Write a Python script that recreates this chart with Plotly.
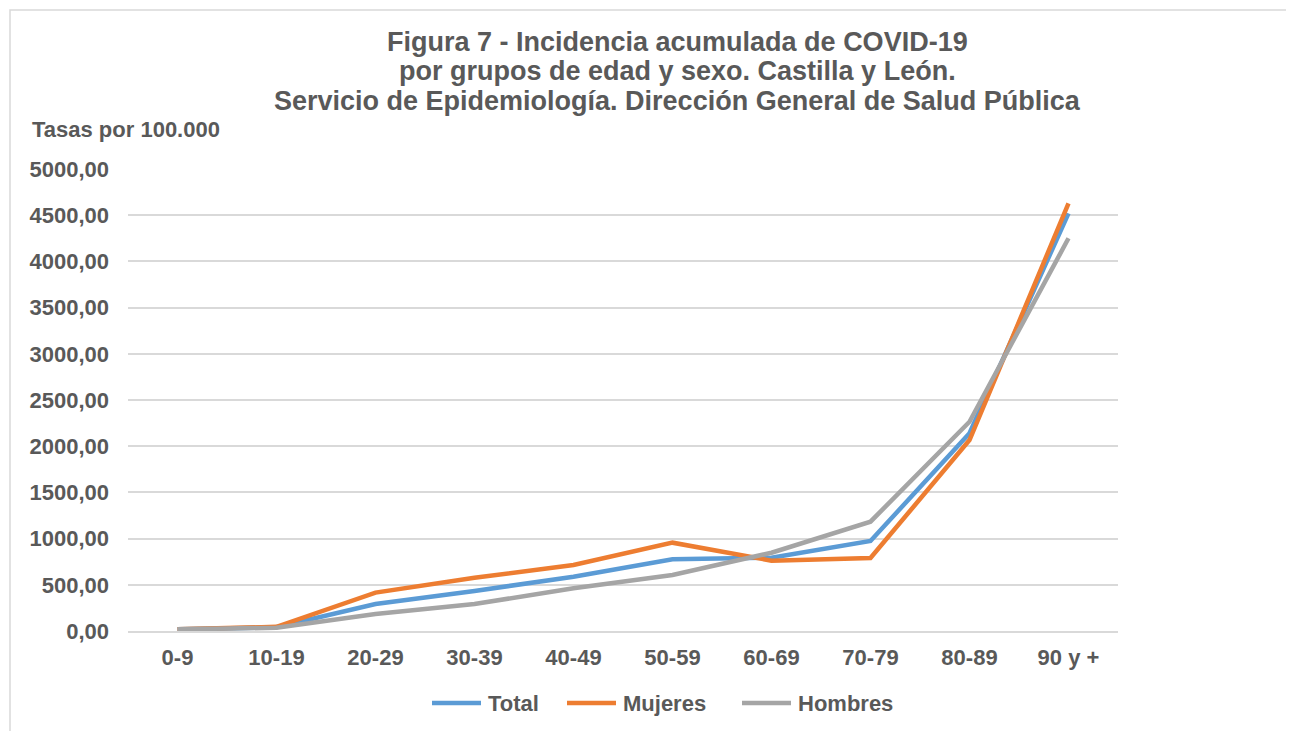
import plotly.graph_objects as go

categories = ["0-9", "10-19", "20-29", "30-39", "40-49", "50-59", "60-69", "70-79", "80-89", "90 y +"]
total = [18, 40, 292, 433, 588, 776, 793, 974, 2140, 4520]
mujeres = [18, 45, 415, 577, 714, 956, 761, 790, 2067, 4628]
hombres = [18, 35, 184, 292, 462, 606, 847, 1183, 2265, 4250]
series_names = ["Total", "Mujeres", "Hombres"]
series_colors = ["#5b9bd5", "#ed7d31", "#a5a5a5"]
y_ticks = [0, 500, 1000, 1500, 2000, 2500, 3000, 3500, 4000, 4500, 5000]
y_tick_labels = ["0,00", "500,00", "1000,00", "1500,00", "2000,00", "2500,00",
                 "3000,00", "3500,00", "4000,00", "4500,00", "5000,00"]
title_lines = ["Figura 7 - Incidencia acumulada de COVID-19",
               "por grupos de edad y sexo. Castilla y León.",
               "Servicio de Epidemiología. Dirección General de Salud Pública"]

FONT = "Liberation Sans, Arial, sans-serif"
TXT = "#595959"

OFF = 8  # page offset
W, H = 1294 - OFF, 731 - OFF
L, T = 128 - OFF, 169 - OFF
pw, ph = 990, 462
R, B = W - L - pw, H - T - ph


def fx(X):
    return (X - OFF - L) / pw


def fy(Y):
    return (H - B - (Y - OFF)) / ph


fig = go.Figure()
for name, vals, col in zip(series_names, [total, mujeres, hombres], series_colors):
    fig.add_trace(go.Scatter(x=categories, y=vals, mode="lines", name=name,
                             line=dict(color=col, width=4.5)))

fig.update_layout(
    width=W, height=H,
    margin=dict(l=L, r=R, t=T, b=B, autoexpand=False),
    paper_bgcolor="white", plot_bgcolor="white",
    font=dict(family=FONT, color=TXT),
    xaxis=dict(showgrid=False, showline=True, linecolor="#d9d9d9", linewidth=1.5,
               tickfont=dict(family=FONT, size=22, color=TXT, weight="bold"),
               ticks="", fixedrange=True, range=[-0.5, 9.5], ticklabelstandoff=6),
    yaxis=dict(range=[0, 5000], tickvals=y_ticks, ticktext=y_tick_labels,
               showgrid=True, gridcolor="#d9d9d9", gridwidth=1.5, zeroline=False,
               tickfont=dict(family=FONT, size=22, color=TXT, weight="bold"),
               ticks="", ticklabelstandoff=18),
    showlegend=False,
)

for line, yc in zip(title_lines, [42, 71, 101]):
    fig.add_annotation(text=line, xref="paper", yref="paper",
                       x=fx(677), y=fy(yc), xanchor="center", yanchor="middle",
                       showarrow=False,
                       font=dict(family=FONT, size=27, color=TXT, weight="bold"))

fig.add_annotation(text="Tasas por 100.000", xref="paper", yref="paper",
                   x=fx(30), y=fy(130), xanchor="left", yanchor="middle",
                   showarrow=False,
                   font=dict(family=FONT, size=22, color=TXT, weight="bold"))

# manual legend
legend_x = [430, 565, 740]
for name, col, lx in zip(series_names, series_colors, legend_x):
    fig.add_shape(type="line", xref="paper", yref="paper",
                  x0=fx(lx + 2), x1=fx(lx + 51), y0=fy(703), y1=fy(703),
                  line=dict(color=col, width=4.5))
    fig.add_annotation(text=name, xref="paper", yref="paper",
                       x=fx(lx + 56), y=fy(703), xanchor="left", yanchor="middle",
                       showarrow=False,
                       font=dict(family=FONT, size=22, color=TXT, weight="bold"))

fig.add_shape(type="rect", xref="paper", yref="paper",
              x0=fx(10), x1=fx(1300), y0=fy(740), y1=fy(10),
              line=dict(color="#d9d9d9", width=1.5), fillcolor="rgba(0,0,0,0)", layer="below")

fig.write_html("out.html")
